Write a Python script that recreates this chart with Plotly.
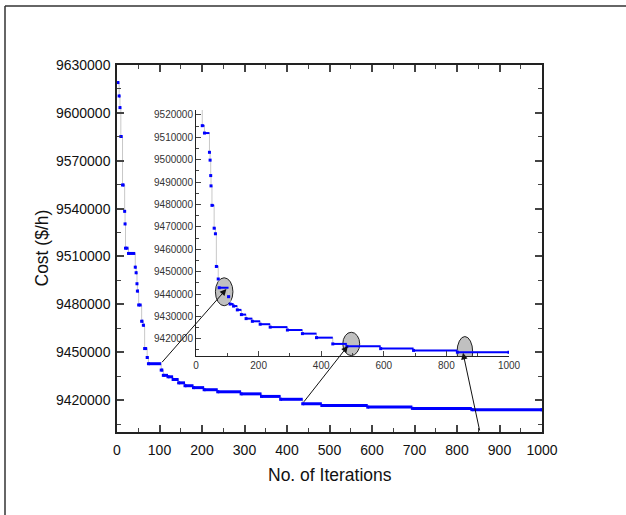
import plotly.graph_objects as go

# ---- data (best cost so far at each change point) ----
iterations = [2, 5, 7, 9, 13, 18, 19, 20, 27, 43, 45, 47, 48, 51, 58, 62, 65, 71, 74,
              104, 109, 120, 132, 145, 160, 180, 205, 237, 292, 340, 385, 437, 482,
              590, 695, 835, 1000]
costs = [9619000, 9610600, 9603300, 9585200, 9554800, 9538300, 9530400, 9515200,
         9511900, 9503300, 9499800, 9492900, 9488300, 9479600, 9469400, 9466900,
         9452300, 9446700, 9442800, 9438800, 9435500, 9434600, 9432900, 9430800,
         9429000, 9427800, 9426500, 9425200, 9423900, 9422300, 9420500, 9417700,
         9416600, 9415600, 9414800, 9414000, 9414000]

# zoom call-outs: (main iteration, main cost) -> (inset iteration, inset cost)
callout_main = [(103, 9442800), (437, 9418000), (854, 9400000)]
callout_inset = [(97, 9442200), (485, 9416800), (853, 9413700)]
ellipses = [(90, 9441000, 28, 6250), (496, 9417700, 27, 5200), (859, 9414100, 25, 6900)]

main_x_ticks = [0, 100, 200, 300, 400, 500, 600, 700, 800, 900, 1000]
main_y_range = [9400000, 9630000]
inset_y_range = [9412300, 9522200]
x_range = [0, 1000]

W, H = 626, 515
ML, MR, MT, MB = 117, 84, 65, 83
PW, PH = W - ML - MR, H - MT - MB
inset_dx = [(196 - ML) / PW, (509 - ML) / PW]
inset_dy = [(H - MB - 356) / PH, (H - MB - 110) / PH]

BLUE = "#0000ff"
GREY = "#c8c8c8"
FONT = "Arial, Liberation Sans, sans-serif"


def segs(xs, ys):
    sx, sy = [], []
    for i in range(len(xs) - 1):
        sx += [xs[i], xs[i + 1], None]
        sy += [ys[i], ys[i], None]
    return sx, sy


def main_to_inset(ix, c):
    fx = (ix - x_range[0]) / (x_range[1] - x_range[0])
    fy = (c - main_y_range[0]) / (main_y_range[1] - main_y_range[0])
    gx = (fx - inset_dx[0]) / (inset_dx[1] - inset_dx[0])
    gy = (fy - inset_dy[0]) / (inset_dy[1] - inset_dy[0])
    return (x_range[0] + gx * (x_range[1] - x_range[0]),
            inset_y_range[0] + gy * (inset_y_range[1] - inset_y_range[0]))


fig = go.Figure()
sx, sy = segs(iterations, costs)
for xa, ya, lw in [("x", "y", 3), ("x2", "y2", 2)]:
    fig.add_trace(go.Scatter(x=iterations, y=costs, mode="lines", line=dict(color=GREY, width=1, shape="hv"),
                             xaxis=xa, yaxis=ya, showlegend=False, hoverinfo="skip"))
    fig.add_trace(go.Scatter(x=sx, y=sy, mode="lines", line=dict(color=BLUE, width=lw),
                             xaxis=xa, yaxis=ya, showlegend=False, hoverinfo="skip"))
    fig.add_trace(go.Scatter(x=iterations, y=costs, mode="markers",
                             marker=dict(color=BLUE, size=3, symbol="square"),
                             xaxis=xa, yaxis=ya, showlegend=False, cliponaxis=True))

shapes = []
for cx, cy, rx, ry in ellipses:
    shapes.append(dict(type="circle", xref="x2", yref="y2", x0=cx - rx, x1=cx + rx, y0=cy - ry, y1=cy + ry,
                       line=dict(color="#222222", width=1), fillcolor="#c0c0c0", layer="below"))
# outer frame (top and left)
fx0 = (5 - ML) / PW
fy0 = (H - MB - 6) / PH
shapes.append(dict(type="line", xref="paper", yref="paper", x0=fx0, x1=(W - ML) / PW, y0=fy0, y1=fy0,
                   line=dict(color="#333333", width=1.5)))
shapes.append(dict(type="line", xref="paper", yref="paper", x0=fx0, x1=fx0, y0=fy0, y1=(-MB) / PH,
                   line=dict(color="#333333", width=1.5)))

annotations = []
for (mx, my), (hx, hy) in zip(callout_main, callout_inset):
    tx, ty = main_to_inset(mx, my)
    annotations.append(dict(x=hx, y=hy, xref="x2", yref="y2", ax=tx, ay=ty, axref="x2", ayref="y2",
                            showarrow=True, arrowhead=2, arrowsize=1.3, arrowwidth=1, arrowcolor="#111111",
                            text="", standoff=0))
annotations.append(dict(text="No. of Iterations", x=0.5, y=(H - MB - 475) / PH, xref="paper", yref="paper",
                        showarrow=False, font=dict(family=FONT, size=17.5, color="#111111"),
                        xanchor="center", yanchor="middle"))
annotations.append(dict(text="Cost ($/h)", x=(41 - ML) / PW, y=0.5, xref="paper", yref="paper",
                        showarrow=False, textangle=-90, font=dict(family=FONT, size=17.5, color="#111111"),
                        xanchor="center", yanchor="middle"))

axis_common = dict(showgrid=False, zeroline=False, showline=True, linecolor="#222222")
fig.update_layout(
    width=W, height=H, margin=dict(l=ML, r=MR, t=MT, b=MB),
    paper_bgcolor="white", plot_bgcolor="rgba(0,0,0,0)",
    font=dict(family=FONT, color="#111111"),
    shapes=shapes, annotations=annotations,
    xaxis=dict(**axis_common, range=x_range, tickmode="array", tickvals=main_x_ticks,
               ticks="inside", ticklen=7, tickwidth=1.5, linewidth=1.5, mirror="ticks",
               tickfont=dict(size=14), ticklabelstandoff=4,
               minor=dict(ticks="inside", ticklen=4, dtick=50, tick0=0, tickwidth=1.2)),
    yaxis=dict(**axis_common, range=main_y_range, tick0=0, dtick=30000, tickformat="d",
               ticks="inside", ticklen=7, tickwidth=1.5, linewidth=1.5, mirror="ticks",
               tickfont=dict(size=14), ticklabelstandoff=2,
               minor=dict(ticks="inside", ticklen=4, dtick=15000, tick0=0, tickwidth=1.2)),
    xaxis2=dict(**axis_common, domain=inset_dx, anchor="y2", range=x_range, tick0=0, dtick=200,
                ticks="inside", ticklen=5, tickwidth=1, linewidth=1,
                tickfont=dict(size=10, color="#333333"),
                minor=dict(ticks="inside", ticklen=3, dtick=100, tick0=0, tickwidth=1)),
    yaxis2=dict(**axis_common, domain=inset_dy, anchor="x2", range=inset_y_range, tick0=0, dtick=10000,
                tickformat="d", ticks="inside", ticklen=5, tickwidth=1, linewidth=1,
                tickfont=dict(size=10, color="#333333"),
                minor=dict(ticks="inside", ticklen=3, dtick=5000, tick0=0, tickwidth=1)),
)
fig.write_html("out.html", config={"displayModeBar": False},
               post_script="document.body.style.margin='0';document.body.style.padding='0';")
